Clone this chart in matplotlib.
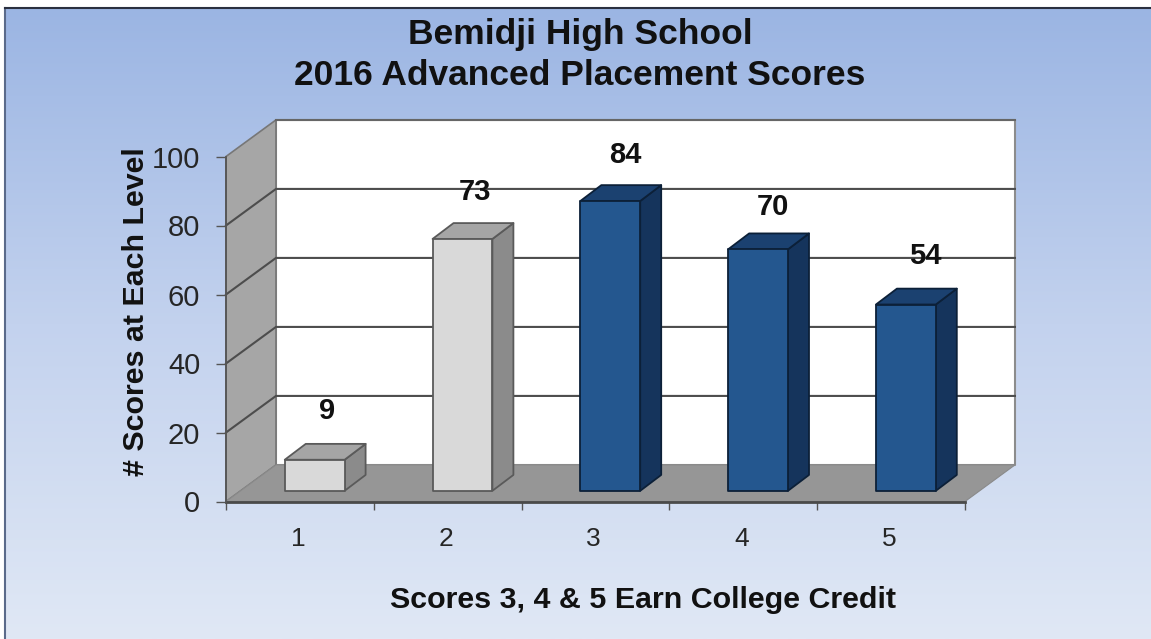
import numpy as np
import matplotlib
matplotlib.use('Agg')
import matplotlib.pyplot as plt
from matplotlib.patches import Polygon
from matplotlib.transforms import ScaledTranslation

title = 'Bemidji High School\n2016 Advanced Placement Scores'
xlabel = 'Scores 3, 4 & 5 Earn College Credit'
ylabel = '# Scores at Each Level'
scores = [1, 2, 3, 4, 5]
counts = [9, 73, 84, 70, 54]
yticks = [0, 20, 40, 60, 80, 100]

W, H = 1151, 639
plt.rcParams['font.family'] = ['Liberation Sans', 'DejaVu Sans']

GRAY = dict(front='#d9d9d9', side='#8b8b8b', top='#a5a5a5', edge='#5a5a5a')
BLUE = dict(front='#24578f', side='#15345c', top='#1b4170', edge='#0c2038')
bar_styles = [GRAY, GRAY, BLUE, BLUE, BLUE]

# depth of the fake 3d box and of the bars, in data units
wall_dx, wall_dy = 0.338, 10.6
bar_dx, bar_dy = 0.142, 4.6
bar_w, bar_shift, bar_base = 0.405, 0.1, 3.1
# offsets of the value labels above the bars, in pixels
label_offset = [(2, 49), (2, 47), (5, 46), (4, 42), (9, 49)]

fig = plt.figure(figsize=(W / 100, H / 100), dpi=100, facecolor='white')


def box(l, t, r, b):
    return [l / W, 1 - b / H, (r - l) / W, (b - t) / H]


# background gradient
bg = fig.add_axes(box(5, 8, W, H), zorder=0)
bg.imshow(np.linspace(0, 1, 256).reshape(-1, 1), aspect='auto', vmin=0, vmax=1,
          cmap=matplotlib.colors.LinearSegmentedColormap.from_list('bg', ['#9bb5e3', '#c3d2ee', '#e0e8f5']))
bg.set_xticks([])
bg.set_yticks([])
for side in ['right', 'bottom']:
    bg.spines[side].set_visible(False)
bg.spines['top'].set_color('#2a3040')
bg.spines['top'].set_linewidth(1.5)
bg.spines['left'].set_color('#5a6a8a')
bg.spines['left'].set_linewidth(1.5)

ax = fig.add_axes(box(226, 156.5, 965, 501.5), zorder=1)
ax.set_xlim(0.5, 5.5)
ax.set_ylim(0, 100)
ax.patch.set_visible(False)


def poly(pts, face, edge, lw=1.3, z=2):
    ax.add_patch(Polygon(pts, closed=True, facecolor=face, edgecolor=edge, linewidth=lw,
                         zorder=z, clip_on=False, joinstyle='round'))


x0, x1 = 0.5, 5.5
y_top = yticks[-1]
# back wall, side wall, floor
poly([(x0 + wall_dx, wall_dy), (x1 + wall_dx, wall_dy), (x1 + wall_dx, y_top + wall_dy),
      (x0 + wall_dx, y_top + wall_dy)], 'white', '#8c8c8c', 1.5)
poly([(x0, 0), (x0 + wall_dx, wall_dy), (x0 + wall_dx, y_top + wall_dy), (x0, y_top)],
     '#a6a6a6', '#777777', 1.2)
for t in yticks[1:-1]:
    ax.plot([x0, x0 + wall_dx, x1 + wall_dx], [t, t + wall_dy, t + wall_dy], color='#4d4d4d',
            lw=1.5, zorder=2.5, clip_on=False)
poly([(x0, 0), (x1, 0), (x1 + wall_dx, wall_dy), (x0 + wall_dx, wall_dy)], '#969696', '#8a8a8a', 0.8, 3)
ax.plot([x0, x1], [0, 0], color='#4a4a4a', lw=2.0, zorder=3.5, clip_on=False)
ax.plot([x0 + wall_dx, x1 + wall_dx], [y_top + wall_dy, y_top + wall_dy], color='#666666', lw=1.5,
        zorder=2.5, clip_on=False)

# bars
for s, v, st, off in zip(scores, counts, bar_styles, label_offset):
    l = s + bar_shift - bar_w / 2
    r = l + bar_w
    b = bar_base
    t = bar_base + v
    poly([(r, b), (r + bar_dx, b + bar_dy), (r + bar_dx, t + bar_dy), (r, t)], st['side'], st['edge'], z=4)
    poly([(l, t), (r, t), (r + bar_dx, t + bar_dy), (l + bar_dx, t + bar_dy)], st['top'], st['edge'], z=4)
    poly([(l, b), (r, b), (r, t), (l, t)], st['front'], st['edge'], z=4)
    ax.annotate(str(v), xy=(s + bar_shift + bar_dx / 2, t), xytext=off,
                textcoords='offset pixels', ha='center', va='center', fontsize=21, fontweight='bold',
                color='#111111', zorder=5)

# axes
for side in ['top', 'right', 'bottom']:
    ax.spines[side].set_visible(False)
ax.spines['left'].set_color('#555555')
ax.spines['left'].set_linewidth(1.3)
ax.spines['left'].set_zorder(3.6)
ax.set_yticks(yticks)
ax.set_xticks(np.arange(0.5, 6))
ax.set_xticklabels([])
ax.set_xticks(scores, [str(s) for s in scores], minor=True)
ax.tick_params(axis='y', length=7.5, width=1.0, color='#555555', labelsize=21, labelcolor='#262626', pad=11)
ax.tick_params(axis='x', which='major', length=6, width=1.0, color='#555555')
ax.tick_params(axis='x', which='minor', length=0, labelsize=19, labelcolor='#262626', pad=18.5)
shift = ScaledTranslation(-2 / 100, 0, fig.dpi_scale_trans)
for lab in ax.get_xticklabels(minor=True):
    lab.set_transform(lab.get_transform() + shift)

fig.text(580 / W, 1 - 55 / H, title, ha='center', va='center', fontsize=25.5, fontweight='bold',
         color='#111111', linespacing=1.3, zorder=6)
fig.text(643 / W, 1 - 600 / H, xlabel, ha='center', va='center', fontsize=21.9, fontweight='bold',
         color='#111111', zorder=6)
fig.text(136 / W, 1 - 312 / H, ylabel, ha='center', va='center', rotation=90, fontsize=21.9,
         fontweight='bold', color='#111111', zorder=6)

fig.savefig('out.png', dpi=100)
